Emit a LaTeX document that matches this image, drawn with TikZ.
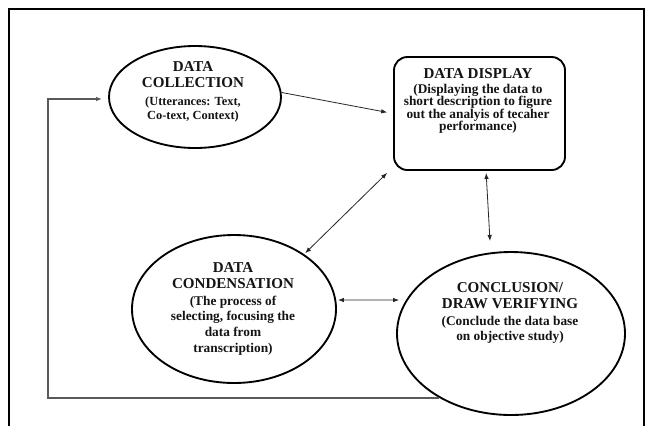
\documentclass[tikz,border=0pt]{standalone}
\usepackage{fontspec}
\setmainfont{Liberation Serif}
\usetikzlibrary{arrows.meta,shapes.geometric}
\newcommand\ttlfnt{\fontsize{11.3}{12}\selectfont}
\begin{document}
\begin{tikzpicture}[x=0.75pt,y=-0.75pt,
  shapeline/.style={draw=black, line width=1.4pt},
  ovalbox/.style={shapeline, ellipse, inner sep=0pt},
  roundbox/.style={shapeline, rectangle, rounded corners=10pt, inner sep=0pt},
  txt/.style={align=center, inner sep=0pt, anchor=north, text=black!92},
  tip/.style={Latex[length=4.5pt,width=3.4pt]},
  link/.style={line width=0.6pt, draw=black!85, -{Latex[length=4.5pt,width=3.4pt]}},
  twoway/.style={line width=0.6pt, draw=black!85, {Latex[length=4.5pt,width=3.4pt]}-{Latex[length=4.5pt,width=3.4pt]}},
  feedback/.style={line width=0.9pt, draw=black!65, -{Latex[length=4.5pt,width=3.4pt]}},
  frameline/.style={line width=1.2pt, draw=black}
]
\useasboundingbox (0,0) rectangle (646,426);
\fill[white] (0,0) rectangle (646,426);

% frame
\coordinate (fbl) at (9,426);
\coordinate (ftl) at (9,9);
\coordinate (ftr) at (644,9);
\coordinate (fbr) at (644,426);
\draw[frameline] (fbl) -- (ftl) -- (ftr) -- (fbr);

% shapes
\node[ovalbox, minimum width=129pt, minimum height=76.5pt] (coll) at (195,97) {};
\node[roundbox, minimum width=128.25pt, minimum height=84.75pt] (disp) at (479.5,113.5) {};
\node[ovalbox, minimum width=153pt, minimum height=111pt] (cond) at (234,309) {};
\node[ovalbox, minimum width=171pt, minimum height=122.25pt] (conc) at (511,333.5) {};

% texts
\node[txt, font=\fontsize{9.3}{10.5}\selectfont\bfseries] (collt) at (193,61)
  {{\ttlfnt DATA}\\[1.5pt]{\ttlfnt COLLECTION}\\[3pt](Utterances: Text,\\Co-text, Context)};
\node[txt, font=\fontsize{10}{9.3}\selectfont\bfseries] (dispt) at (478,68)
  {{\ttlfnt DATA DISPLAY}\\[2pt](Displaying the data to\\short description to figure\\out the analyis of tecaher\\performance)};
\node[txt, font=\fontsize{10}{11.75}\selectfont\bfseries] (condt) at (233,262)
  {{\ttlfnt DATA}\\[0.25pt]{\ttlfnt CONDENSATION}\\[1pt](The process of\\selecting, focusing the\\data from\\transcription)};
\node[txt, font=\fontsize{10}{11.5}\selectfont\bfseries] (conct) at (510,282)
  {{\ttlfnt CONCLUSION/}\\[0.5pt]{\ttlfnt DRAW VERIFYING}\\[1.25pt](Conclude the data base\\on objective study)};

% connectors
\draw[link, shorten >=4.5pt] (coll.3) -- (disp.west);
\draw[twoway, shorten >=1pt] ([xshift=-4.5pt,yshift=-1.5pt]disp.south west) -- (cond.38);
\draw[twoway, shorten <=1.5pt] ([xshift=4.9pt]disp.south) -- ([xshift=-15.75pt,yshift=7.5pt]conc.north);
\draw[twoway] ([xshift=0.75pt,yshift=6.75pt]cond.east) -- ([xshift=2.25pt,yshift=25.1pt]conc.west);

% feedback loop
\coordinate (fbcorner) at (48,99);
\draw[feedback, shorten >=4.5pt] (conc.222) -| (fbcorner) -- (fbcorner -| coll.west);
\end{tikzpicture}
\end{document}
